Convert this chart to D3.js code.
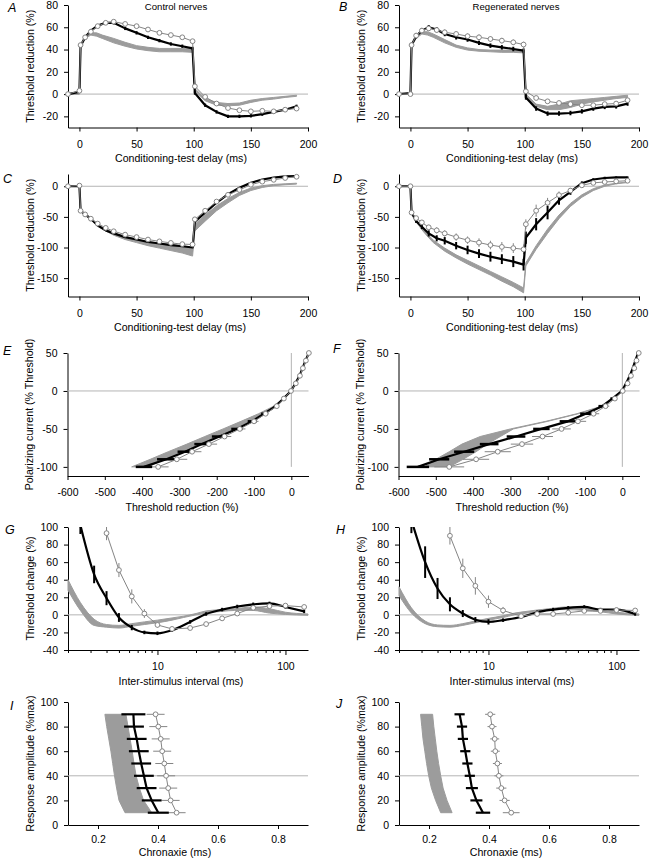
<!DOCTYPE html>
<html>
<head>
<meta charset="utf-8">
<script src="https://cdn.jsdelivr.net/npm/d3@7/dist/d3.min.js"></script>
<style>
html,body{margin:0;padding:0;background:#fff;}
svg text{font-family:"Liberation Sans",Arial,Helvetica,sans-serif;}
</style>
</head>
<body>
<script>
// ================= DATA =================
// Threshold electrotonus (A-D)
const teDelay = [-10, 0, 1, 5, 10, 16, 23, 30, 40, 50, 60, 70, 80, 90, 99, 101, 110, 120, 130, 140, 150, 160, 170, 180, 190];
const teTicks = [0, 50, 100, 150, 200];
const abYTicks = [-20, 0, 20, 40, 60, 80];
const cdYTicks = [-150, -100, -50, 0];

const aBlack = [0, 2, 43, 51, 57, 61.5, 64, 64, 59, 55, 51, 48, 45, 43, 41, 1, -10, -16, -20, -20, -19.5, -18, -16, -14, -11];
const aBlackErr = [0, 0, 1.5, 1.5, 1.5, 1.5, 1.5, 1.5, 1.5, 1.5, 1.5, 1.5, 1.5, 1.5, 1.5, 1.5, 1.5, 1.5, 1.5, 1.5, 1.5, 1.5, 1.5, 1.5, 1.5];
const aCirc = [0, 3, 44, 51, 56, 61, 64, 65, 63, 61, 58, 55, 53, 51, 47.5, 7, -2.5, -8.5, -12.5, -14.5, -15.5, -15, -15.5, -14, -13];

const bBlack = [0, 1, 44, 52, 57, 60, 58, 54, 51, 49, 46, 43.5, 42, 40.5, 39, -3, -13, -17.5, -17.5, -17, -15.5, -13, -11.5, -11, -8.5];
const bBlackErr = [0, 0, 2, 2, 2, 2, 2, 2, 2, 2, 2, 2, 2, 2, 2, 2, 2, 2, 2, 2, 2, 2, 2, 2, 2];
const bCirc = [0, 0, 44, 52.5, 57, 59, 57.5, 55.5, 54, 52, 51, 49.5, 48, 46.5, 44.5, 2.5, -3.5, -6.5, -8, -9, -10, -10, -9, -8.5, -5.5];
const bCircErr = [0, 0, 2, 2.5, 2.5, 2.5, 2.5, 2.5, 2.5, 2.5, 2.5, 2.5, 2.5, 2.5, 2.5, 2, 2, 2, 2, 2, 2, 2, 2, 2, 2];

const cBlack = [0, 0, -40, -46, -53, -64, -72, -77, -83, -87, -91, -93.5, -96, -98, -100, -58, -43, -27, -13, -2.5, 5.5, 11, 14, 16, 16.5];
const cCirc = [0, 1, -40, -46, -53, -61, -68, -73.5, -79, -83, -87, -90, -92.5, -94.5, -95, -54, -40, -25, -14, -6, 2.5, 7.5, 10.5, 13.5, 15.5];

const dBlack = [0, 0, -43, -57, -66, -77, -85, -89, -97, -104, -110, -115, -119, -123, -128, -84, -62, -43, -23, -9, 5, 11, 13.5, 14.5, 14.5];
const dBlackErr = [0, 0, 2, 3, 4, 5, 5, 6, 6, 7, 7, 8, 8, 9, 9.5, 10, 10, 11, 7, 5, 3, 2, 2, 1.5, 1.5];
const dCirc = [0, 0, -43, -52, -59, -67, -72, -77, -83, -88, -92, -96, -99, -101, -103, -62, -40, -27, -14.5, -7, 1.5, 5.5, 7, 8, 9];
const dCircErr = [0, 0, 2, 3, 3, 4, 5, 5, 6, 6, 7, 7, 8, 8, 8, 8, 10, 8, 6, 4, 3, 2, 2, 2, 2];

const teBandDelay = [-10, 0, 1, 5, 10, 15, 20, 30, 40, 50, 60, 70, 80, 90, 99, 101, 110, 120, 130, 140, 150, 160, 170, 180, 190];
const aBandHi = [0, 0, 45, 52, 55, 55, 53, 50, 46.5, 43.5, 42, 41, 41, 41, 41.5, 5, -4, -7.5, -8.5, -8, -5.5, -4, -3, -2, -1];
const aBandLo = [0, 0, 43, 50, 53, 52, 50, 46, 43, 40.5, 39, 38, 38, 38, 37.5, 3, -6, -10, -10.5, -10, -7.5, -5.5, -4.5, -3, -2];
const bBandHi = [0, 0, 45, 52, 56, 56, 54, 49, 44, 41.5, 40, 39.5, 39.5, 39.5, 39.5, 0, -9, -11, -9, -6, -5, -4, -3, -2, -1];
const bBandLo = [0, 0, 43, 50, 54, 53, 51, 46, 42, 39.5, 38.5, 38, 37.5, 37.5, 37, -2, -11, -14, -14, -12, -9, -7, -5.5, -4, -3];
const cBandHi = [0, 0, -40, -46, -53, -60, -67, -76, -82, -86, -90, -93, -95, -97, -100, -62, -47, -32, -20, -10, -3, 1, 3, 4, 5];
const cBandLo = [0, 0, -41, -48, -55, -63, -70, -80, -87, -92, -97, -101, -105, -109, -114, -73, -57, -40, -27, -15, -7, -2, 1, 2.5, 3.5];
const dBandHi = [0, 0, -42, -55, -68, -78, -88, -101, -112, -121, -130, -139, -148, -157, -166, -125, -97, -70, -47, -28, -14, -4, 2, 5, 7];
const dBandLo = [0, 0, -44, -58, -71, -82, -92, -106, -117, -127, -136, -145, -155, -164, -174, -130, -103, -77, -53, -33, -18, -7, 0, 4, 6];

// Current-threshold (E-F)
const ivCurrent = [-100, -90, -80, -70, -60, -50, -40, -30, -20, -10, 0, 10, 20, 30, 40, 50];
const ivXTicks = [-600, -500, -400, -300, -200, -100, 0];
const ivYTicks = [-100, -50, 0, 50];
const eBlack = [-395, -335, -285, -240, -193, -146, -105, -73, -42, -21, -1, 11, 22, 30, 38, 47];
const eBlackErr = [22, 25, 20, 20, 20, 15, 12, 8, 5, 3, 2, 2, 2, 2, 2, 2];
const eCirc = [-357, -307, -266, -221, -179, -138, -100, -69, -39, -20, -1, 12, 23, 31, 39, 47];
const eCircErr = [28, 28, 25, 22, 18, 15, 12, 8, 5, 3, 2, 2, 2, 2, 2, 2];
const eBandLeft = [-428, -378, -330, -280, -232, -183, -135, -88, -47, -22, -1, 11, 22, 30, 38, 47];
const eBandRight = [-385, -340, -292, -248, -200, -152, -110, -75, -43, -21, -1, 11, 22, 30, 38, 47];
const fBlack = [-548, -491, -424, -357, -285, -217, -146, -98, -54, -27, -1, 10, 20, 28, 35, 42];
const fBlackErr = [30, 27, 27, 25, 25, 22, 22, 15, 10, 5, 3, 2, 2, 2, 2, 2];
const fCirc = [-464, -392, -334, -269, -214, -163, -119, -77, -45, -20, 1, 14, 23, 32, 38, 44];
const fCircErr = [40, 35, 35, 30, 28, 25, 22, 15, 10, 5, 3, 2, 2, 2, 2, 2];
const fBandLeft = [-530, -500, -464, -430, -381, -300, -205, -122, -55, -25, -1, 9, 18, 27, 34, 41];
const fBandRight = [-464, -427, -392, -362, -327, -292, -200, -118, -52, -23, 0, 10, 20, 28, 35, 42];

// Recovery cycle (G-H)
const rcInterval = [2.5, 3.2, 4, 5, 6.3, 7.9, 10, 13, 18, 24, 32, 42, 56, 75, 100, 140];
const rcXTicks = [10, 100];
const rcMinorTicks = [2, 3, 4, 5, 6, 7, 8, 9, 20, 30, 40, 50, 60, 70, 80, 90];
const rcYTicks = [-40, -20, 0, 20, 40, 60, 80, 100];
const gBlack = [102, 46, 19, -3, -14.5, -20, -21, -17.5, -8, 1, 6, 9.5, 12, 13, 9, 4];
const gBlackErr = [10, 10, 8, 5, 3, 2, 2, 2, 2, 2, 2, 2, 2, 2, 2, 2];
const gCircInterval = [4, 5, 6.3, 7.9, 10, 13, 18, 24, 32, 42, 56, 75, 100, 140];
const gCirc = [93, 51, 21, 1.5, -11.5, -16, -15, -10.5, -4, 1.5, 8, 10, 10.5, 9];
const gCircErr = [8, 8, 8, 5, 3, 2, 2, 2, 2, 2, 2, 2, 2, 2];
const hBlack = [108, 60, 30, 12, 1.5, -5.5, -8, -6, -2.5, 3, 6, 8, 9, 6, 6, 1];
const hBlackErr = [15, 18, 12, 8, 4, 3, 3, 2, 2, 2, 2, 2, 2, 2, 2, 2];
const hCircInterval = [5, 6.3, 7.9, 10, 13, 18, 24, 32, 42, 56, 75, 100, 140];
const hCirc = [90, 53, 33, 15, 5, -1.5, 1, 1, 2.5, 4.5, 4.5, 5.5, 5];
const hCircErr = [10, 11, 10, 7, 4, 2, 2, 2, 2, 2, 2, 2, 2];
const rcBandInterval = [2, 2.5, 3.2, 4, 5, 6.3, 7.9, 10, 13, 16, 20, 24, 32, 40, 56, 75, 100, 150];
const gBandHi = [40, 14, -5, -11, -12, -10, -8, -6, -3.5, -1.5, 1.5, 4.5, 6, 7, 9, 7, 3, 1];
const gBandLo = [28, 5, -12, -14, -15, -13, -11, -9, -6, -3, 0, 2, 4, 5, 5, 2, 0.5, -0.5];
const hBandHi = [32, 8, -7, -11.5, -12, -10, -7, -4, -1, 2, 4, 5.5, 7.5, 9, 8, 6, 3, 1];
const hBandLo = [22, 2, -10, -13.5, -14, -12, -9, -6, -3, 0, 2, 4, 6, 6, 5, 3.5, 1, -0.5];

// Strength-duration / chronaxie (I-J)
const seLevel = [90, 80, 70, 60, 50, 40, 30, 20, 10];
const seXTicks = [0.2, 0.4, 0.6, 0.8];
const seYTicks = [0, 20, 40, 60, 80, 100];
const iBlack = [0.318, 0.32, 0.329, 0.336, 0.344, 0.353, 0.362, 0.379, 0.401];
const iBlackErr = [0.04, 0.033, 0.033, 0.033, 0.033, 0.033, 0.033, 0.033, 0.035];
const iCirc = [0.392, 0.401, 0.409, 0.414, 0.421, 0.427, 0.434, 0.442, 0.462];
const iCircErr = [0.03, 0.03, 0.03, 0.03, 0.03, 0.03, 0.03, 0.03, 0.03];
const iBandLeft = [0.223, 0.229, 0.236, 0.243, 0.249, 0.255, 0.262, 0.27, 0.29];
const iBandRight = [0.293, 0.300, 0.307, 0.314, 0.320, 0.327, 0.338, 0.352, 0.379];
const jBlack = [0.302, 0.31, 0.313, 0.321, 0.328, 0.336, 0.343, 0.358, 0.38];
const jBlackErr = [0.017, 0.017, 0.017, 0.017, 0.017, 0.017, 0.02, 0.02, 0.024];
const jCirc = [0.404, 0.41, 0.419, 0.421, 0.428, 0.433, 0.441, 0.452, 0.474];
const jCircErr = [0.017, 0.015, 0.015, 0.015, 0.015, 0.015, 0.017, 0.017, 0.028];
const jBandLeft = [0.172, 0.176, 0.180, 0.186, 0.192, 0.199, 0.208, 0.222, 0.239];
const jBandRight = [0.212, 0.216, 0.221, 0.226, 0.232, 0.239, 0.247, 0.260, 0.277];

// ================= DRAWING =================
const FONT = '"Liberation Sans", Arial, Helvetica, sans-serif';
const GRAY = "#9c9c9c";
const CIRC = "#858585";
const REF = "#b4b4b4";
const TICK_FS = 10.5, TITLE_FS = 10.6;

const svg = d3.select("body").append("svg").attr("width", 656).attr("height", 860);
svg.append("rect").attr("width", 656).attr("height", 860).attr("fill", "#fff");

let clipId = 0;
function frame(o) {
  const g = svg.append("g");
  const x0 = o.x.range()[0], yb = o.y.range()[0], yt = o.y.range()[1];
  const xa = d3.axisBottom(o.x).tickValues(o.xTicks).tickSize(o.xTickSize || 4).tickSizeOuter(0)
    .tickPadding(o.xPad).tickFormat(o.xFmt || (d => String(d)));
  g.append("g").attr("transform", `translate(0,${yb})`).call(xa);
  if (o.minor) {
    const gm = g.append("g").attr("transform", `translate(0,${yb})`)
      .call(d3.axisBottom(o.x).tickValues(o.minor).tickSize(3).tickFormat(""));
    gm.select(".domain").remove();
  }
  const ya = d3.axisLeft(o.y).tickValues(o.yTicks).tickSize(4).tickSizeOuter(0).tickPadding(6)
    .tickFormat(d => String(d));
  g.append("g").attr("transform", `translate(${x0},0)`).call(ya);
  g.selectAll(".domain, .tick line").attr("stroke", "#000").attr("stroke-width", 1);
  g.selectAll(".tick text").attr("font-size", TICK_FS).attr("font-family", FONT).attr("fill", "#000");
  g.append("text").attr("x", o.xTitleX).attr("y", yb + o.xTitleDy).attr("text-anchor", "middle")
    .attr("font-size", TITLE_FS).text(o.xTitle);
  g.append("text").attr("transform", `translate(${x0 - 34.5},${(yb + yt) / 2}) rotate(-90)`)
    .attr("text-anchor", "middle").attr("font-size", TITLE_FS).text(o.yTitle);
  svg.append("text").attr("x", o.lx).attr("y", o.ly).attr("font-size", 12.5)
    .attr("font-style", "italic").text(o.letter);
  const d = svg.append("g");
  if (o.clip) {
    const id = "clip" + (clipId++);
    svg.append("clipPath").attr("id", id).append("rect")
      .attr("x", x0 - 6).attr("y", yt).attr("width", o.x.range()[1] - x0 + 12).attr("height", yb - yt + 6);
    d.attr("clip-path", `url(#${id})`);
  }
  return d;
}

function refH(g, o, v) {
  g.append("line").attr("x1", o.x.range()[0]).attr("x2", o.x.range()[1])
    .attr("y1", o.y(v)).attr("y2", o.y(v)).attr("stroke", REF).attr("stroke-width", 1);
}
function refV(g, o, v, y0, y1) {
  g.append("line").attr("x1", o.x(v)).attr("x2", o.x(v))
    .attr("y1", o.y(y0)).attr("y2", o.y(y1)).attr("stroke", REF).attr("stroke-width", 1);
}
function bandV(g, o, xs, hi, lo, curve) {
  const data = xs.map((x, i) => ({ x, hi: hi[i], lo: lo[i] }));
  g.append("path").datum(data)
    .attr("d", d3.area().x(d => o.x(d.x)).y0(d => o.y(d.lo)).y1(d => o.y(d.hi)).curve(curve || d3.curveLinear))
    .attr("fill", GRAY).attr("stroke", GRAY).attr("stroke-width", 1).attr("stroke-linejoin", "round");
}
function bandH(g, o, ys, left, right, curve) {
  const data = ys.map((y, i) => ({ y, l: left[i], r: right[i] }));
  g.append("path").datum(data)
    .attr("d", d3.area().y(d => o.y(d.y)).x0(d => o.x(d.l)).x1(d => o.x(d.r)).curve(curve || d3.curveLinear))
    .attr("fill", GRAY).attr("stroke", GRAY).attr("stroke-width", 1).attr("stroke-linejoin", "round");
}
function path(g, o, pts, color, width, curve) {
  g.append("path").datum(pts)
    .attr("d", d3.line().x(d => o.x(d[0])).y(d => o.y(d[1])).curve(curve || d3.curveLinear))
    .attr("fill", "none").attr("stroke", color).attr("stroke-width", width)
    .attr("stroke-linejoin", "round").attr("stroke-linecap", "butt");
}
function errV(g, o, xs, ys, es, color, width) {
  const idx = d3.range(xs.length).filter(i => es[i] > 0);
  g.selectAll(null).data(idx).join("line")
    .attr("x1", i => o.x(xs[i])).attr("x2", i => o.x(xs[i]))
    .attr("y1", i => o.y(ys[i] - es[i])).attr("y2", i => o.y(ys[i] + es[i]))
    .attr("stroke", color).attr("stroke-width", width);
}
function errH(g, o, xs, ys, es, color, width) {
  const idx = d3.range(xs.length).filter(i => es[i] > 0);
  g.selectAll(null).data(idx).join("line")
    .attr("x1", i => o.x(xs[i] - es[i])).attr("x2", i => o.x(xs[i] + es[i]))
    .attr("y1", i => o.y(ys[i])).attr("y2", i => o.y(ys[i]))
    .attr("stroke", color).attr("stroke-width", width);
}
function circles(g, o, pts) {
  g.selectAll(null).data(pts).join("circle")
    .attr("cx", d => o.x(d[0])).attr("cy", d => o.y(d[1])).attr("r", 2.4)
    .attr("fill", "#fff").attr("stroke", CIRC).attr("stroke-width", 1);
}
const zip = (a, b) => a.map((v, i) => [v, b[i]]);

const LEFT = [68, 308], RIGHT = [399, 639];

// ---- A-D : threshold electrotonus ----
function tePanel(col, yDom, yRange, yTicks, letter, lx, ly, titleX, black, blackErr, circ, circErr, bandHi, bandLo) {
  const o = {
    x: d3.scaleLinear([-10, 200], col), y: d3.scaleLinear(yDom, yRange),
    xTicks: teTicks, yTicks, xPad: 9, xTitle: "Conditioning-test delay (ms)",
    yTitle: "Threshold reduction (%)", xTitleX: titleX, xTitleDy: 34.5, letter, lx, ly
  };
  const g = frame(o);
  refH(g, o, 0);
  bandV(g, o, teBandDelay, bandHi, bandLo);
  if (circErr) errV(g, o, teDelay, circ, circErr, CIRC, 1);
  path(g, o, zip(teDelay, black), "#000", 2.2);
  if (blackErr) errV(g, o, teDelay, black, blackErr, "#000", 2);
  path(g, o, zip(teDelay, circ), CIRC, 1);
  circles(g, o, zip(teDelay, circ));
}
tePanel(LEFT, [-30, 80], [127.5, 5], abYTicks, "A", 8, 11.5, 181, aBlack, aBlackErr, aCirc, null, aBandHi, aBandLo);
tePanel(RIGHT, [-30, 80], [127.5, 5], abYTicks, "B", 339, 11, 512, bBlack, bBlackErr, bCirc, bCircErr, bBandHi, bBandLo);
tePanel(LEFT, [-180, 20], [296.5, 174], cdYTicks, "C", 3, 183, 180, cBlack, null, cCirc, null, cBandHi, cBandLo);
tePanel(RIGHT, [-180, 20], [296.5, 174], cdYTicks, "D", 333, 183, 512, dBlack, dBlackErr, dCirc, dCircErr, dBandHi, dBandLo);

svg.append("text").attr("x", 176).attr("y", 9.5).attr("text-anchor", "middle").attr("font-size", 9.6).text("Control nerves");
svg.append("text").attr("x", 516).attr("y", 9.5).attr("text-anchor", "middle").attr("font-size", 9.6).text("Regenerated nerves");

// ---- E / F : current-threshold ----
function ivPanel(col, letter, lx, ly, titleX, black, blackErr, circ, circErr, bl, br) {
  const o = {
    x: d3.scaleLinear([-600, 46], [col[0] - 0.5, col[1] + 0.5]), y: d3.scaleLinear([-112, 50], [476, 353]),
    xTicks: ivXTicks, yTicks: ivYTicks, xPad: 9, xTitle: "Threshold reduction (%)",
    yTitle: "Polarizing current (% Threshold)", xTitleX: titleX, xTitleDy: 34.5, letter, lx, ly
  };
  const g = frame(o);
  refH(g, o, 0);
  refV(g, o, 0, 50, -100);
  bandH(g, o, ivCurrent, bl, br);
  errH(g, o, circ, ivCurrent, circErr, CIRC, 1);
  path(g, o, zip(black, ivCurrent), "#000", 2.2);
  errH(g, o, black, ivCurrent, blackErr, "#000", 2.5);
  path(g, o, zip(circ, ivCurrent), CIRC, 1);
  circles(g, o, zip(circ, ivCurrent));
}
ivPanel(LEFT, "E", 3, 355, 182, eBlack, eBlackErr, eCirc, eCircErr, eBandLeft, eBandRight);
ivPanel(RIGHT, "F", 333, 353, 512, fBlack, fBlackErr, fCirc, fCircErr, fBandLeft, fBandRight);

// ---- G / H : recovery cycle ----
function rcPanel(col, letter, lx, ly, titleX, black, blackErr, cx, circ, circErr, hi, lo) {
  const o = {
    x: d3.scaleLog([2, 150], col), y: d3.scaleLinear([-40, 100], [650, 527]),
    xTicks: rcXTicks, minor: rcMinorTicks, xTickSize: 5, yTicks: rcYTicks, xPad: 8,
    xTitle: "Inter-stimulus interval (ms)", yTitle: "Threshold change (%)",
    xTitleX: titleX, xTitleDy: 34.5, letter, lx, ly, clip: true
  };
  const g = frame(o);
  refH(g, o, 0);
  bandV(g, o, rcBandInterval, hi, lo, d3.curveMonotoneX);
  errV(g, o, cx, circ, circErr, CIRC, 1);
  path(g, o, zip(rcInterval, black), "#000", 2.2, d3.curveMonotoneX);
  errV(g, o, rcInterval, black, blackErr, "#000", 2);
  path(g, o, zip(cx, circ), CIRC, 1);
  circles(g, o, zip(cx, circ));
}
rcPanel(LEFT, "G", 5, 534, 181, gBlack, gBlackErr, gCircInterval, gCirc, gCircErr, gBandHi, gBandLo);
rcPanel(RIGHT, "H", 336, 534, 512, hBlack, hBlackErr, hCircInterval, hCirc, hCircErr, hBandHi, hBandLo);

// ---- I / J : chronaxie ----
function sePanel(col, letter, lx, ly, titleX, black, blackErr, circ, circErr, bl, br) {
  const o = {
    x: d3.scaleLinear([0.1, 0.9], col), y: d3.scaleLinear([0, 100], [825, 702]),
    xTicks: seXTicks, yTicks: seYTicks, xPad: 7, xFmt: d => d.toFixed(1),
    xTitle: "Chronaxie (ms)", yTitle: "Response amplitude (%max)",
    xTitleX: titleX, xTitleDy: 31, letter, lx, ly
  };
  const g = frame(o);
  refH(g, o, 40);
  bandH(g, o, seLevel, bl, br);
  errH(g, o, circ, seLevel, circErr, CIRC, 1);
  path(g, o, zip(black, seLevel), "#000", 2.2);
  errH(g, o, black, seLevel, blackErr, "#000", 2.2);
  path(g, o, zip(circ, seLevel), CIRC, 1);
  circles(g, o, zip(circ, seLevel));
}
sePanel(LEFT, "I", 10, 710, 175, iBlack, iBlackErr, iCirc, iCircErr, iBandLeft, iBandRight);
sePanel(RIGHT, "J", 336, 708, 506, jBlack, jBlackErr, jCirc, jCircErr, jBandLeft, jBandRight);
</script>
</body>
</html>
